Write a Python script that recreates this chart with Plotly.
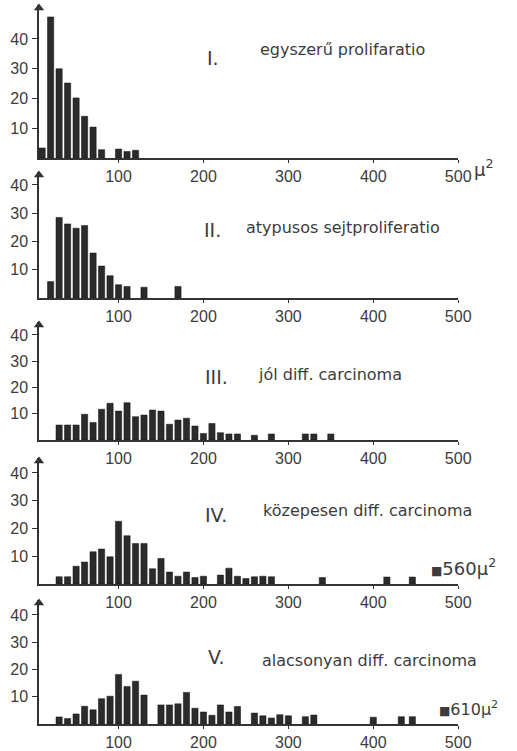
import plotly.graph_objects as go

# ---------------- data ----------------
# bar centres in µ², heights in counts
bins1 = [10, 20, 30, 40, 50, 60, 70, 80, 100, 110, 120]
counts1 = [3.4, 47.4, 30, 25.2, 20.2, 14, 10.4, 2.8, 3, 2.2, 2.6]

bins2 = [20, 30, 40, 50, 60, 70, 80, 90, 100, 110, 130, 170]
counts2 = [5.8, 28.5, 26.2, 24.7, 25.6, 15.9, 11.3, 7.9, 4.7, 4.1, 3.8, 4.1]

bins3 = [30, 40, 50, 60, 70, 80, 90, 100, 110, 120, 130, 140, 150, 160, 170,
         180, 190, 200, 210, 220, 230, 240, 260, 280, 320, 330, 350]
counts3 = [5.7, 5.7, 5.7, 9.8, 6.7, 11.7, 14, 11, 14.2, 8.9, 9.5, 11.4, 11, 6,
           7.6, 8.3, 5.3, 2.5, 6.3, 2.8, 2.3, 2.3, 1.8, 2.3, 2.3, 2.3, 2.3]

bins4 = [30, 40, 50, 60, 70, 80, 90, 100, 110, 120, 130, 140, 150, 160, 170,
         180, 190, 200, 220, 230, 240, 250, 260, 270, 280, 340, 416, 446]
counts4 = [2.6, 2.6, 6.4, 7.9, 11.6, 12.6, 9.8, 22.6, 17.4, 14.6, 14.6, 5.5, 9.2,
           4.3, 2.8, 4.3, 2.3, 2.8, 3.2, 5.7, 2.8, 2.0, 2.6, 2.8, 2.6, 2.3, 2.5, 2.5]

bins5 = [30, 40, 50, 60, 70, 80, 90, 100, 110, 120, 130, 150, 160, 170, 180,
         190, 200, 210, 220, 230, 240, 260, 270, 280, 290, 300, 320, 330, 400,
         433, 446]
counts5 = [2.6, 2.0, 3.7, 6.5, 5.2, 9.3, 10.2, 18.2, 13.8, 15.7, 10.6, 7, 7, 7.4,
           11.6, 5.8, 4.4, 3.2, 7, 4.4, 6.4, 4, 3, 2.2, 3.4, 3, 2.7, 3.3, 2.5,
           2.7, 2.7]

roman = ["I.", "II.", "III.", "IV.", "V."]
names = ["egyszerű prolifaratio", "atypusos sejtproliferatio", "jól diff. carcinoma",
         "közepesen diff. carcinoma", "alacsonyan diff. carcinoma"]
x_ticks = [100, 200, 300, 400, 500]
y_ticks = [10, 20, 30, 40]
outliers = {4: "560", 5: "610"}

all_bins = [bins1, bins2, bins3, bins4, bins5]
all_counts = [counts1, counts2, counts3, counts4, counts5]

# ---------------- layout (pixels) ----------------
W, H = 517, 751
def px_x(p):
    return p / W
def px_y(p):
    return 1 - p / H

X0, X1 = 6.3, 500
# (baseline px, arrow tip px, y max)
geo = [(158, 8, 50.4), (298, 175, 43.5), (440, 325, 43.8), (584, 461, 44.3), (724, 603, 44.4)]
# (roman left px, roman y px, name left px, name y px)
title_pos = [(210, 58, 265, 50), (207, 230, 250, 228), (208, 377, 263, 375),
             (208, 515, 268, 510), (211, 657, 267, 660)]
# outlier label (left px, y px, font size)
outlier_pos = {4: (440, 567, 18), 5: (448, 708, 16)}

INK = "#2b2b2b"
TXT = "#3c3c3c"
tickfont = dict(family="Liberation Sans, Arial, sans-serif", size=16, color=TXT)
textfont = dict(family="DejaVu Sans, sans-serif", size=16, color=TXT)

fig = go.Figure()
layout = dict(width=W, height=H, margin=dict(l=0, r=0, t=0, b=0),
              paper_bgcolor="white", plot_bgcolor="white", showlegend=False)
annotations = []

for i in range(5):
    n = i + 1
    xa = "x" if n == 1 else f"x{n}"
    ya = "y" if n == 1 else f"y{n}"
    base, tip, ymax = geo[i]
    fig.add_trace(go.Bar(x=all_bins[i], y=all_counts[i], width=7.3,
                         marker=dict(color=INK, line=dict(color="#111", width=0.5)),
                         xaxis=xa, yaxis=ya, hoverinfo="x+y"))
    # arrow head at top of the y axis
    fig.add_trace(go.Scatter(x=[X0], y=[ymax], mode="markers", xaxis=xa, yaxis=ya,
                             marker=dict(symbol="triangle-up", size=9, color="#333"),
                             cliponaxis=False, hoverinfo="skip"))
    layout["xaxis" if n == 1 else f"xaxis{n}"] = dict(
        domain=[px_x(40), px_x(470)], range=[X0, X1], anchor=ya,
        showline=True, linecolor="#333", linewidth=1.5, ticks="outside", ticklen=3,
        tickwidth=1.2, tickcolor="#333", tickvals=x_ticks, tickfont=tickfont,
        showgrid=False, zeroline=False, ticklabelstandoff=0)
    layout["yaxis" if n == 1 else f"yaxis{n}"] = dict(
        domain=[px_y(base), px_y(tip - 3)], range=[0, ymax * (base - tip + 3) / (base - tip)],
        anchor=xa,
        showline=True, linecolor="#333", linewidth=1.5, ticks="outside", ticklen=5,
        tickwidth=1.2, tickcolor="#333", tickvals=y_ticks, tickfont=tickfont,
        showgrid=False, zeroline=False, ticklabelstandoff=1)
    rx, ry, nx, ny = title_pos[i]
    annotations.append(dict(xref="paper", yref="paper", x=px_x(rx), y=px_y(ry),
                            xanchor="left", yanchor="middle", text=roman[i], showarrow=False,
                            font=dict(family="DejaVu Sans, sans-serif", size=19, color=TXT)))
    annotations.append(dict(xref="paper", yref="paper", x=px_x(nx), y=px_y(ny),
                            xanchor="left", yanchor="middle", text=names[i], showarrow=False,
                            font=textfont))
    if n in outliers:
        ox, oy, fs = outlier_pos[n]
        annotations.append(dict(xref="paper", yref="paper", x=px_x(ox), y=px_y(oy),
                                xanchor="left", yanchor="middle",
                                text="<span style='font-size:12px'>■</span>" + outliers[n] + "µ<sup>2</sup>",
                                showarrow=False,
                                font=dict(family="DejaVu Sans, sans-serif", size=fs, color=TXT)))

# µ² unit after 500 on the first axis
annotations.append(dict(xref="paper", yref="paper", x=px_x(484), y=px_y(168),
                        xanchor="left", yanchor="middle", text="µ<sup>2</sup>",
                        showarrow=False, font=dict(family="DejaVu Sans, sans-serif", size=18, color=TXT)))

layout["annotations"] = annotations
fig.update_layout(**layout)
fig.write_html("out.html")
